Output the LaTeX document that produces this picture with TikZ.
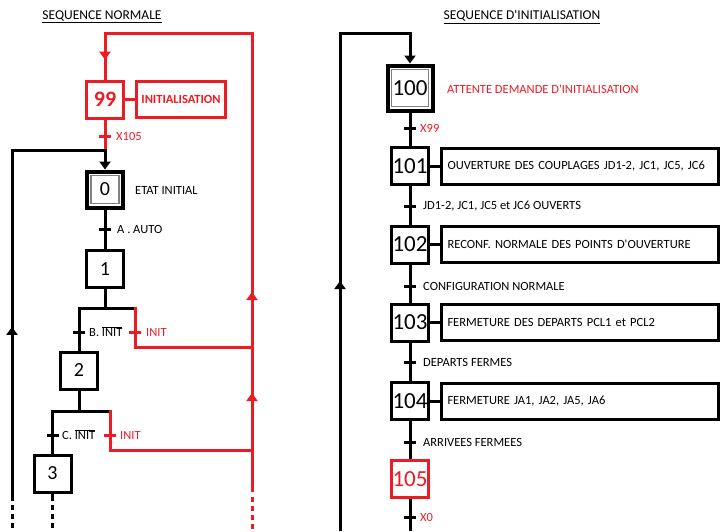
\documentclass[tikz,border=0pt]{standalone}
\usepackage{fontspec}
\setmainfont{Carlito}
\usetikzlibrary{arrows.meta,decorations.markings,calc}
\definecolor{gred}{RGB}{237,28,36}
\begin{document}
\begin{tikzpicture}[x=1pt,y=-1pt,
  blk/.style={draw=black, line width=3pt},
  redline/.style={draw=gred, line width=3pt},
  tipA/.tip={Triangle[width=11pt,length=8pt]},
  midarrow/.style={postaction={decorate},decoration={markings,mark=at position #1 with {\arrow{tipA}}}},
  stepbox/.style={draw, line width=3pt, minimum width=37pt, minimum height=37pt, inner sep=0pt, fill=white, font=\fontsize{20}{20}\selectfont},
  bigstep/.style={stepbox, font=\fontsize{23}{23}\selectfont},
  initbox/.style={draw, line width=4pt, minimum width=36pt, minimum height=36pt, inner sep=0pt, fill=white, font=\fontsize{20}{20}\selectfont},
  actbox/.style={draw, line width=3pt, minimum height=36pt, text width=265pt, inner xsep=6pt, inner ysep=0pt, align=left, anchor=west, font=\fontsize{12.5}{14}\selectfont},
  tickbar/.style={fill, minimum width=12pt, minimum height=3pt, inner sep=0pt, outer sep=0pt},
  lbl/.style={anchor=west, inner sep=0pt, font=\fontsize{12.5}{14}\selectfont},
  ttl/.style={inner sep=0pt, font=\fontsize{13.5}{15}\selectfont},
  innerframe/.style={draw=gray, line width=1.2pt}
]
\useasboundingbox (0,0) rectangle (721,531);

% ---------------- titles
\node[ttl] (t1) at (102,17) {\underline{SEQUENCE NORMALE}};
\node[ttl] (t2) at (522,17) {\underline{SEQUENCE D\textquotesingle INITIALISATION}};

% ---------------- left : steps
\node[stepbox, draw=gred, text=gred, font=\fontsize{22}{22}\selectfont\bfseries] (s99) at (105,99.5) {99};
\node[draw=gred, line width=3pt, minimum width=89pt, minimum height=36pt, inner sep=0pt, text=gred, font=\fontsize{12.5}{14}\selectfont\bfseries] (a99) at (181,99.5) {INITIALISATION};
\node[initbox] (s0) at (105,189.5) {0};
\draw[innerframe] ($(s0.south west)+(6pt,6pt)$) rectangle ($(s0.north east)+(-6pt,-6pt)$);
\node[stepbox] (s1) at (105,269) {1};
\node[stepbox] (s2) at (79,370.5) {2};
\node[stepbox] (s3) at (52.5,473.5) {3};

% coordinates
\coordinate (rtop) at (252,33);
\coordinate (ltop) at (105,33);
\coordinate (rB) at (252,347.7);
\coordinate (rC) at (252,450.7);
\coordinate (rbot) at (252,492);
\coordinate (bl) at (12,150);
\coordinate (jn0) at (105,150);
\coordinate (bbot) at (12,501);
\coordinate (j1) at (105,308);
\coordinate (jBl) at (79,308);
\coordinate (jBr) at (133.5,308);
\coordinate (rBt) at (135,306.5);
\coordinate (rBc) at (135,347.7);
\coordinate (j2) at (79,411.7);
\coordinate (jCl) at (52.5,411.7);
\coordinate (jCr) at (108.5,411.7);
\coordinate (rCt) at (110,410.2);
\coordinate (rCc) at (110,450.7);
\coordinate (s3b) at (52.5,501);

% red loop
\draw[redline] (rbot) -- (rtop) -- (ltop) -- (s99.north);
\draw[redline, midarrow=0.56] (rC) -- (rB);
\draw[redline, midarrow=0.177] (rB) -- (rtop);
\draw[redline, midarrow=0.574] (ltop) -- (s99.north);
\draw[redline, dash pattern=on 5pt off 4pt] (252,497) -- (252,531);
\draw[redline] (s99) -- (a99);
\draw[redline] (s99.south) -- (105,148.5);

% black loop left
\draw[blk, -{tipA}] (bbot) -- (bl) -- (jn0) -- (s0.north);
\draw[blk, midarrow=0.496] (bbot) -- (bl);
\draw[blk, dash pattern=on 5pt off 4pt] (12,505) -- (12,531);

% sequence
\draw[blk] (s0) -- (s1);
\draw[blk] (s1.south) -- (j1);
\draw[blk] (s2.north) -- (jBl) -- (jBr);
\draw[redline] (rBt) -- (rBc) -- (rB);
\draw[blk] (s2.south) -- (j2);
\draw[blk] (s3.north) -- (jCl) -- (jCr);
\draw[redline] (rCt) -- (rCc) -- (rC);
\draw[blk] (s3.south) -- (s3b);
\draw[blk, dash pattern=on 5pt off 4pt] (52.5,505) -- (52.5,531);

% transitions left
\node[tickbar, gred] (x105) at (105,136) {};
\node[tickbar] (tA) at (105,229) {};
\node[tickbar] (tB) at (79,332) {};
\node[tickbar, gred] (tBr) at (135,332) {};
\node[tickbar] (tC) at (52.5,435) {};
\node[tickbar, gred] (tCr) at (110,435) {};

\node[lbl, text=gred] (lx105) at (116,136) {X105};
\node[lbl] (l0) at (135,190) {ETAT INITIAL};
\node[lbl] (lA) at (117,229) {A . AUTO};
\node[lbl] (lB) at (89,332) {B. $\overline{\mbox{INIT}}$};
\node[lbl, text=gred] (lBr) at (146,332) {INIT};
\node[lbl] (lC) at (62,435) {C. $\overline{\mbox{INIT}}$};
\node[lbl, text=gred] (lCr) at (120,435) {INIT};

% ---------------- right
\node[initbox, minimum width=45pt, minimum height=45pt, font=\fontsize{23}{23}\selectfont] (s100) at (410,88) {100};
\draw[innerframe] ($(s100.south west)+(6pt,6pt)$) rectangle ($(s100.north east)+(-6pt,-6pt)$);
\node[bigstep] (s101) at (410,166) {101};
\node[bigstep] (s102) at (410,244.5) {102};
\node[bigstep] (s103) at (410,322.5) {103};
\node[bigstep] (s104) at (410,401) {104};
\node[bigstep, draw=gred, text=gred] (s105) at (410,479) {105};

\node[actbox] (a101) at (440,166) {OUVERTURE DES COUPLAGES JD1-2, JC1, JC5, JC6};
\node[actbox] (a102) at (440,244.5) {RECONF. NORMALE DES POINTS D\textquotesingle OUVERTURE};
\node[actbox] (a103) at (440,322.5) {FERMETURE DES DEPARTS PCL1 et PCL2};
\node[actbox] (a104) at (440,401) {FERMETURE JA1, JA2, JA5, JA6};

\coordinate (rl) at (340,33);
\coordinate (rlb) at (340,531);
\coordinate (rr) at (410,33);
\coordinate (rend) at (410,531);

\draw[blk, -{tipA}] (rlb) -- (rl) -- (rr) -- (s100.north);
\draw[blk, midarrow=0.502] (rlb) -- (rl);
\draw[blk] (s100) -- (s101);
\draw[blk] (s101) -- (s102);
\draw[blk] (s102) -- (s103);
\draw[blk] (s103) -- (s104);
\draw[blk] (s104) -- (s105);
\draw[blk] (s105.south) -- (rend);
\draw[blk] (s101) -- (a101);
\draw[blk] (s102) -- (a102);
\draw[blk] (s103) -- (a103);
\draw[blk] (s104) -- (a104);

\node[tickbar] (t99) at (410,128) {};
\node[tickbar] (t101) at (410,206) {};
\node[tickbar] (t102) at (410,286) {};
\node[tickbar] (t103) at (410,362) {};
\node[tickbar] (t104) at (410,442) {};
\node[tickbar] (t105) at (410,517) {};

\node[lbl, text=gred] (l100) at (447,89) {ATTENTE DEMANDE D\textquotesingle INITIALISATION};
\node[lbl, text=gred] (l99) at (420,128) {X99};
\node[lbl] (l101) at (423,206) {JD1-2, JC1, JC5 et JC6 OUVERTS};
\node[lbl] (l102) at (423,286) {CONFIGURATION NORMALE};
\node[lbl] (l103) at (423,362) {DEPARTS FERMES};
\node[lbl] (l104) at (423,442) {ARRIVEES FERMEES};
\node[lbl, text=gred] (l105) at (420,517) {X0};
\end{tikzpicture}
\end{document}
